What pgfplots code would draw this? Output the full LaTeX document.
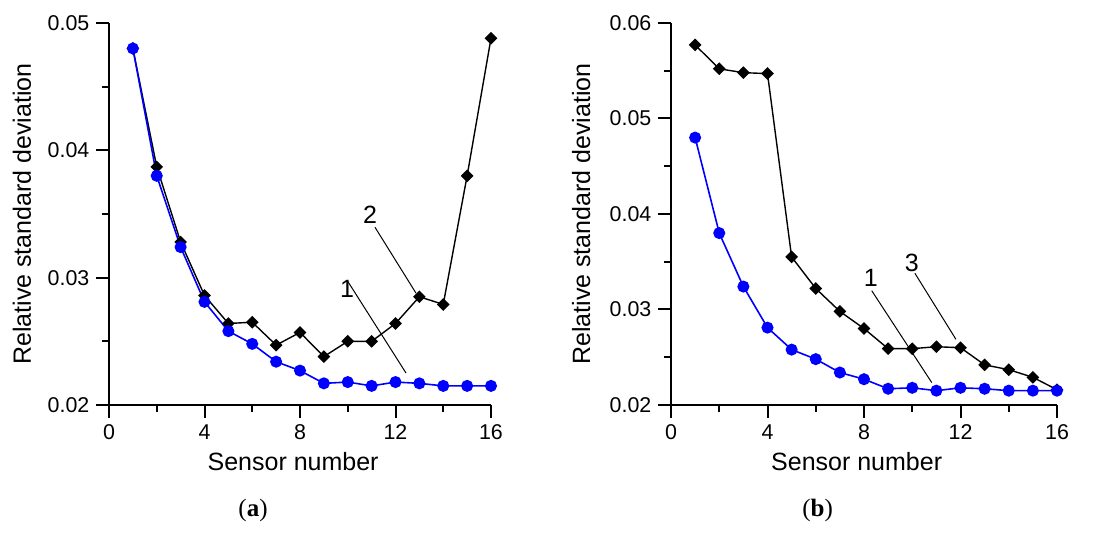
\documentclass[border=0pt]{standalone}
\usepackage{fontspec}
\setmainfont{Liberation Sans}
\newfontfamily\capfont{Liberation Serif}
\usepackage{pgfplots}
\pgfplotsset{compat=1.18}
\definecolor{serblue}{RGB}{0,0,255}
\pgfplotsset{panel/.style={scale only axis, anchor=south west, axis lines*=left,
  axis line style={black,line width=1pt}, tick style={black,line width=1pt},
  tick align=outside, major tick length=6.3pt, minor tick length=3.6pt,
  xmin=0, xmax=16, xtick={0,4,8,12,16}, minor x tick num=1, minor y tick num=1,
  scaled y ticks=false,
  yticklabel style={/pgf/number format/fixed,/pgf/number format/fixed zerofill,/pgf/number format/precision=2},
  /pgf/number format/assume math mode=true,
  tick label style={font=\fontsize{10.7}{12}\selectfont},
  xlabel={Sensor number}, ylabel={Relative standard deviation},
  every axis x label/.style={at={(axis description cs:0.482,-0.149)},anchor=center,font=\fontsize{12.5}{15}\selectfont},
  every axis y label/.style={at={(axis description cs:-0.228,0.5)},rotate=90,anchor=center,font=\fontsize{12.5}{15}\selectfont},
  clip=false},
  blackcurve/.style={black, line width=0.7pt, mark=square*, mark size=1.9pt, mark options={rotate=45,solid}},
  bluecurve/.style={serblue, line width=0.8pt, mark=*, mark size=2.6pt}}
\tikzset{leader/.style={black, line width=0.5pt},
  tag/.style={inner sep=0pt}}
\newcommand{\tagfont}{\fontsize{12.5}{14}\selectfont}

\begin{document}
\begin{tikzpicture}
\path[use as bounding box] (0,0) rectangle (546.5pt,275pt);

% (a)
\begin{axis}[panel, at={(54.5pt,72.5pt)}, width=191pt, height=191pt,
  ymin=0.02, ymax=0.05, ytick={0.02,0.03,0.04,0.05}]
\addplot[blackcurve] coordinates {(1,0.0480) (2,0.0387) (3,0.0328) (4,0.0286) (5,0.0264) (6,0.0265) (7,0.0247) (8,0.0257) (9,0.0238) (10,0.0250) (11,0.0250) (12,0.0264) (13,0.0285) (14,0.0279) (15,0.0380) (16,0.0488)};
\addplot[bluecurve] coordinates {(1,0.0480) (2,0.0380) (3,0.0324) (4,0.0281) (5,0.0258) (6,0.0248) (7,0.0234) (8,0.0227) (9,0.0217) (10,0.0218) (11,0.0215) (12,0.0218) (13,0.0217) (14,0.0215) (15,0.0215) (16,0.0215)};
\node[tag] at (axis cs:10.93,0.0349) {\tagfont 2};
\draw[leader] (axis cs:11.14,0.03396) -- (axis cs:12.86,0.02878);
\node[tag] at (axis cs:9.97,0.02908) {\tagfont 1};
\draw[leader] (axis cs:9.97,0.02980) -- (axis cs:12.44,0.02251);
\end{axis}

% (b)
\begin{axis}[panel, at={(335.5pt,72.5pt)}, width=193pt, height=191pt,
  ymin=0.02, ymax=0.06, ytick={0.02,0.03,0.04,0.05,0.06},
  every axis x label/.style={at={(axis description cs:0.481,-0.149)},anchor=center,font=\fontsize{12.5}{15}\selectfont},
  every axis y label/.style={at={(axis description cs:-0.233,0.5)},rotate=90,anchor=center,font=\fontsize{12.5}{15}\selectfont}]
\addplot[blackcurve] coordinates {(1,0.0577) (2,0.0552) (3,0.0548) (4,0.0547) (5,0.0355) (6,0.0322) (7,0.0298) (8,0.0280) (9,0.0259) (10,0.0259) (11,0.0261) (12,0.0260) (13,0.0242) (14,0.0237) (15,0.0229) (16,0.0216)};
\addplot[bluecurve] coordinates {(1,0.0480) (2,0.0380) (3,0.0324) (4,0.0281) (5,0.0258) (6,0.0248) (7,0.0234) (8,0.0227) (9,0.0217) (10,0.0218) (11,0.0215) (12,0.0218) (13,0.0217) (14,0.0215) (15,0.0215) (16,0.0215)};
\node[tag] at (axis cs:8.28,0.03327) {\tagfont 1};
\draw[leader] (axis cs:8.32,0.03197) -- (axis cs:10.81,0.02234);
\node[tag] at (axis cs:9.98,0.0349) {\tagfont 3};
\draw[leader] (axis cs:10.11,0.03379) -- (axis cs:11.81,0.02688);
\end{axis}

\node[font=\capfont\fontsize{12.5}{14}\selectfont] at (126.5pt,20pt) {(\textbf{a})};
\node[font=\capfont\fontsize{12.5}{14}\selectfont] at (408.8pt,20pt) {(\textbf{b})};
\end{tikzpicture}
\end{document}
